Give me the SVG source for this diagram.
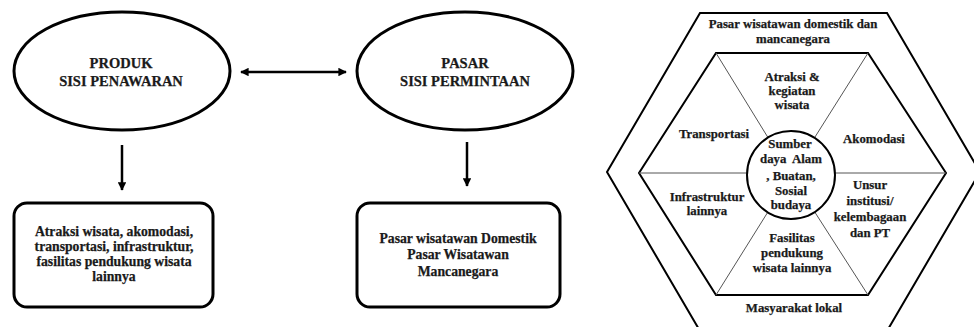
<svg xmlns="http://www.w3.org/2000/svg" width="974" height="327" viewBox="0 0 974 327">
<style>
.t{font-family:'Liberation Serif','Times New Roman',serif;font-weight:bold;fill:#1a1a1a;stroke:#1a1a1a;stroke-width:0.25;text-anchor:middle}
.big{font-size:14.5px}
.mid{font-size:13.7px}
.sm{font-size:12.8px}
.thick{fill:none;stroke:#000;stroke-width:3}
.hex{fill:none;stroke:#000;stroke-width:2}
.thin{fill:none;stroke:#555;stroke-width:1}
.conn{stroke:#000;stroke-width:2.5;fill:none}
</style>
<defs>
<marker id="ah" viewBox="0 0 10 10" refX="9" refY="5" markerWidth="3.4" markerHeight="3.4" orient="auto-start-reverse" markerUnits="strokeWidth">
<path d="M0,0 L10,5 L0,10 z" fill="#000"/>
</marker>
</defs>
<rect width="974" height="327" fill="#fff"/>

<g id="produk">
<ellipse class="thick" cx="122" cy="71" rx="108" ry="59"/>
<text class="t big" x="121" y="68">PRODUK</text>
<text class="t big" x="121" y="86">SISI PENAWARAN</text>
</g>
<g id="pasar">
<ellipse class="thick" cx="465" cy="71" rx="108" ry="59"/>
<text class="t big" x="465" y="68">PASAR</text>
<text class="t big" x="465" y="86">SISI PERMINTAAN</text>
</g>
<g id="atraksi-box">
<rect class="thick" x="14" y="203" width="199" height="104" rx="13"/>
<text class="t mid" x="114" y="236">Atraksi wisata, akomodasi,</text>
<text class="t mid" x="114" y="251">transportasi, infrastruktur,</text>
<text class="t mid" x="114" y="266">fasilitas pendukung wisata</text>
<text class="t mid" x="114" y="281">lainnya</text>
</g>
<g id="pasar-box">
<rect class="thick" x="357" y="203" width="203" height="104" rx="13"/>
<text class="t mid" x="458" y="243">Pasar wisatawan Domestik</text>
<text class="t mid" x="458" y="259">Pasar Wisatawan</text>
<text class="t mid" x="458" y="276">Mancanegara</text>
</g>

<g id="connectors">
<line class="conn" x1="241" y1="72" x2="346" y2="72" marker-start="url(#ah)" marker-end="url(#ah)"/>
<line class="conn" x1="122" y1="145" x2="122" y2="190" marker-end="url(#ah)"/>
<line class="conn" x1="467" y1="142" x2="467" y2="186" marker-end="url(#ah)"/>
</g>

<g id="hexagon">
<polygon class="hex" points="700,13 887,13 980,172 887,331 700,331 607,172"/>
<polygon class="hex" points="716,53 868,53 946,173 868,295 716,295 639,173"/>
<line class="thin" x1="639" y1="173" x2="946" y2="173"/>
<line class="thin" x1="716" y1="53" x2="791" y2="175"/>
<line class="thin" x1="868" y1="53" x2="791" y2="175"/>
<line class="thin" x1="716" y1="295" x2="791" y2="175"/>
<line class="thin" x1="868" y1="295" x2="791" y2="175"/>
</g>
<g id="sumber-daya">
<circle cx="791" cy="175" r="44" fill="#fff" stroke="#000" stroke-width="2"/>
<text class="t sm" x="790" y="148">Sumber</text>
<text class="t sm" x="791" y="163" xml:space="preserve">daya  Alam</text>
<text class="t sm" x="791" y="180">, Buatan,</text>
<text class="t sm" x="791" y="195">Sosial</text>
<text class="t sm" x="791" y="209">budaya</text>
</g>
<g id="pasar-wisatawan">
<text class="t sm" x="793" y="28">Pasar wisatawan domestik dan</text>
<text class="t sm" x="793" y="43">mancanegara</text>
</g>
<g id="atraksi">
<text class="t sm" x="792" y="81">Atraksi &amp;</text>
<text class="t sm" x="792" y="95">kegiatan</text>
<text class="t sm" x="792" y="109">wisata</text>
</g>
<g id="transportasi"><text class="t sm" x="714" y="138">Transportasi</text></g>
<g id="akomodasi"><text class="t sm" x="874" y="143">Akomodasi</text></g>
<g id="infrastruktur">
<text class="t sm" x="707" y="201">Infrastruktur</text>
<text class="t sm" x="707" y="215">lainnya</text>
</g>
<g id="unsur">
<text class="t sm" x="870" y="189">Unsur</text>
<text class="t sm" x="870" y="205">institusi/</text>
<text class="t sm" x="870" y="221">kelembagaan</text>
<text class="t sm" x="870" y="237">dan PT</text>
</g>
<g id="fasilitas">
<text class="t sm" x="792" y="242">Fasilitas</text>
<text class="t sm" x="792" y="257">pendukung</text>
<text class="t sm" x="792" y="272">wisata lainnya</text>
</g>
<g id="masyarakat"><text class="t sm" x="794" y="312">Masyarakat lokal</text></g>
</svg>
